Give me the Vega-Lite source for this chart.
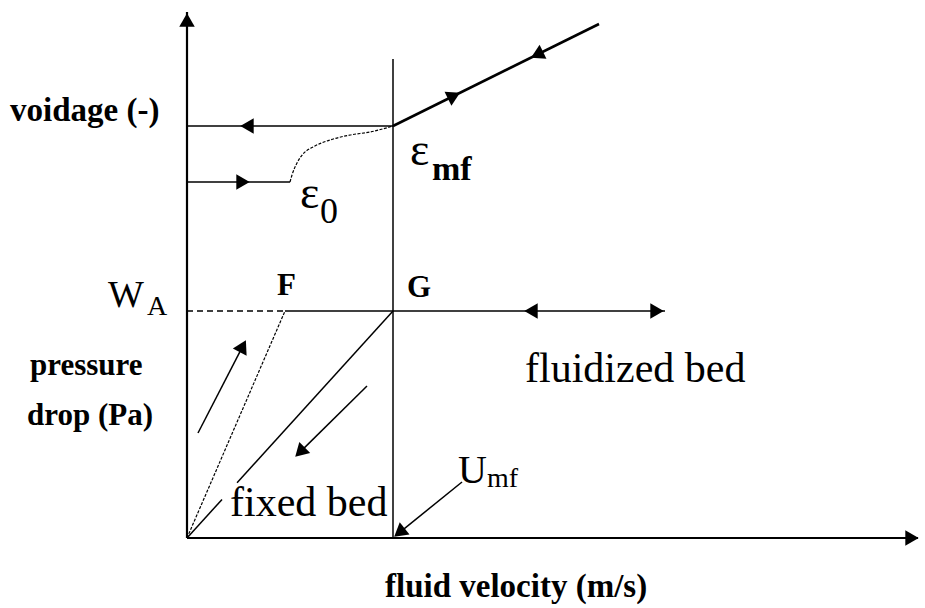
{
  "$schema": "https://vega.github.io/schema/vega-lite/v6.json",
  "width": 925,
  "height": 608,
  "autosize": {"type": "fit", "contains": "padding"},
  "padding": 0,
  "background": "white",
  "config": {"view": {"stroke": null}},
  "datasets": {
    "lines": [
      {"id": "yaxis", "seq": 0, "x": 0, "y": 0},
      {"id": "yaxis", "seq": 1, "x": 0, "y": 2.3172},
      {"id": "xaxis", "seq": 0, "x": 0, "y": 0},
      {"id": "xaxis", "seq": 1, "x": 3.5485, "y": 0},
      {"id": "umf", "seq": 0, "x": 1, "y": 0},
      {"id": "umf", "seq": 1, "x": 1, "y": 2.1101},
      {"id": "vtop", "seq": 0, "x": 0, "y": 1.815},
      {"id": "vtop", "seq": 1, "x": 1, "y": 1.815},
      {"id": "vbot", "seq": 0, "x": 0, "y": 1.5683},
      {"id": "vbot", "seq": 1, "x": 0.5, "y": 1.5683},
      {"id": "fluid", "seq": 0, "x": 1, "y": 1.815},
      {"id": "fluid", "seq": 1, "x": 2.0, "y": 2.2643},
      {"id": "wa_solid", "seq": 0, "x": 0.4757, "y": 1},
      {"id": "wa_solid", "seq": 1, "x": 2.3204, "y": 1},
      {"id": "wa_dash", "seq": 0, "x": 0, "y": 1},
      {"id": "wa_dash", "seq": 1, "x": 0.4757, "y": 1},
      {"id": "oF", "seq": 0, "x": 0, "y": 0},
      {"id": "oF", "seq": 1, "x": 0.4757, "y": 1},
      {"id": "oG1", "seq": 0, "x": 0, "y": 0},
      {"id": "oG1", "seq": 1, "x": 0.17, "y": 0.17},
      {"id": "oG2", "seq": 0, "x": 0.243, "y": 0.243},
      {"id": "oG2", "seq": 1, "x": 1, "y": 1},
      {"id": "up", "seq": 0, "x": 0.0534, "y": 0.4626},
      {"id": "up", "seq": 1, "x": 0.2709, "y": 0.8449},
      {"id": "down", "seq": 0, "x": 0.8738, "y": 0.6696},
      {"id": "down", "seq": 1, "x": 0.5485, "y": 0.3784},
      {"id": "umfarrow", "seq": 0, "x": 1.335, "y": 0.2467},
      {"id": "umfarrow", "seq": 1, "x": 1.0311, "y": 0.0238},
      {"id": "curve", "seq": 0, "x": 0.5, "y": 1.5683},
      {"id": "curve", "seq": 1, "x": 0.5097, "y": 1.5991},
      {"id": "curve", "seq": 2, "x": 0.534, "y": 1.652},
      {"id": "curve", "seq": 3, "x": 0.5631, "y": 1.6916},
      {"id": "curve", "seq": 4, "x": 0.6117, "y": 1.7225},
      {"id": "curve", "seq": 5, "x": 0.6942, "y": 1.7533},
      {"id": "curve", "seq": 6, "x": 0.7913, "y": 1.7753},
      {"id": "curve", "seq": 7, "x": 0.8883, "y": 1.7885},
      {"id": "curve", "seq": 8, "x": 1.0, "y": 1.815}
    ],
    "heads": [
      {"x": 0, "y": 2.2819, "heading": 270},
      {"x": 3.5194, "y": 0, "heading": 0},
      {"x": 0.2913, "y": 1.815, "heading": 180},
      {"x": 0.2718, "y": 1.5683, "heading": 0},
      {"x": 1.2961, "y": 1.948, "heading": 333.7},
      {"x": 1.699, "y": 2.1291, "heading": 153.7},
      {"x": 1.6699, "y": 1, "heading": 180},
      {"x": 2.2816, "y": 1, "heading": 0},
      {"x": 0.2709, "y": 0.8449, "heading": 297.3},
      {"x": 0.5485, "y": 0.3784, "heading": 135.4},
      {"x": 1.0311, "y": 0.0238, "heading": 141.0}
    ]
  },
  "encoding": {
    "x": {"field": "x", "type": "quantitative", "scale": {"domain": [-0.90777, 3.58252], "nice": false, "zero": false}, "axis": null},
    "y": {"field": "y", "type": "quantitative", "scale": {"domain": [-0.30837, 2.37004], "nice": false, "zero": false}, "axis": null}
  },
  "layer": [
    {
      "data": {"name": "lines"},
      "transform": [{"filter": {"field": "id", "oneOf": ["yaxis", "xaxis"]}}],
      "mark": {"type": "line", "color": "black", "strokeWidth": 2.2},
      "encoding": {"detail": {"field": "id"}, "order": {"field": "seq"}}
    },
    {
      "data": {"name": "lines"},
      "transform": [{"filter": {"field": "id", "oneOf": ["umf", "vtop", "vbot", "wa_solid", "oG1", "oG2", "up", "down", "umfarrow"]}}],
      "mark": {"type": "line", "color": "black", "strokeWidth": 1.5},
      "encoding": {"detail": {"field": "id"}, "order": {"field": "seq"}}
    },
    {
      "data": {"name": "lines"},
      "transform": [{"filter": {"field": "id", "equal": "fluid"}}],
      "mark": {"type": "line", "color": "black", "strokeWidth": 2.6},
      "encoding": {"detail": {"field": "id"}, "order": {"field": "seq"}}
    },
    {
      "data": {"name": "lines"},
      "transform": [{"filter": {"field": "id", "equal": "wa_dash"}}],
      "mark": {"type": "line", "color": "black", "strokeWidth": 1.5, "strokeDash": [6, 4]},
      "encoding": {"detail": {"field": "id"}, "order": {"field": "seq"}}
    },
    {
      "data": {"name": "lines"},
      "transform": [{"filter": {"field": "id", "oneOf": ["oF", "curve"]}}],
      "mark": {"type": "line", "color": "black", "strokeWidth": 1.2, "strokeDash": [3, 1.5], "interpolate": "monotone"},
      "encoding": {"detail": {"field": "id"}, "order": {"field": "seq"}}
    },
    {
      "data": {"name": "heads"},
      "mark": {"type": "point", "shape": "triangle-right", "filled": true, "size": 240, "color": "black", "opacity": 1, "strokeWidth": 0},
      "encoding": {"angle": {"field": "heading", "type": "quantitative", "scale": null}}
    },
    {
      "data": {"values": [
        {"t": "voidage (-)", "x": -0.8592, "y": 1.837},
        {"t": "fluid velocity (m/s)", "x": 0.9612, "y": -0.2599}
      ]},
      "mark": {"type": "text", "align": "left", "baseline": "alphabetic", "font": "Liberation Serif", "fontWeight": "bold", "fontSize": 33, "color": "black"},
      "encoding": {"text": {"field": "t"}}
    },
    {
      "data": {"values": [
        {"t": "pressure", "x": -0.7621, "y": 0.7181},
        {"t": "drop (Pa)", "x": -0.7767, "y": 0.4978}
      ]},
      "mark": {"type": "text", "align": "left", "baseline": "alphabetic", "font": "Liberation Serif", "fontWeight": "bold", "fontSize": 31, "color": "black"},
      "encoding": {"text": {"field": "t"}}
    },
    {
      "data": {"values": [
        {"t": "fluidized bed", "x": 1.6408, "y": 0.6872},
        {"t": "fixed bed", "x": 0.2087, "y": 0.0969}
      ]},
      "mark": {"type": "text", "align": "left", "baseline": "alphabetic", "font": "Liberation Serif", "fontSize": 42, "color": "black"},
      "encoding": {"text": {"field": "t"}}
    },
    {
      "data": {"values": [{"t": "W", "x": -0.3835, "y": 1.0176}]},
      "mark": {"type": "text", "align": "left", "baseline": "alphabetic", "font": "Liberation Serif", "fontSize": 38, "color": "black"},
      "encoding": {"text": {"field": "t"}}
    },
    {
      "data": {"values": [{"t": "U", "x": 1.3155, "y": 0.2423}]},
      "mark": {"type": "text", "align": "left", "baseline": "alphabetic", "font": "Liberation Serif", "fontSize": 40, "color": "black"},
      "encoding": {"text": {"field": "t"}}
    },
    {
      "data": {"values": [
        {"t": "A", "x": -0.1942, "y": 0.9824},
        {"t": "mf", "x": 1.4563, "y": 0.2247}
      ]},
      "mark": {"type": "text", "align": "left", "baseline": "alphabetic", "font": "Liberation Serif", "fontSize": 28, "color": "black"},
      "encoding": {"text": {"field": "t"}}
    },
    {
      "data": {"values": [
        {"t": "F", "x": 0.4369, "y": 1.0705},
        {"t": "G", "x": 1.068, "y": 1.0617}
      ]},
      "mark": {"type": "text", "align": "left", "baseline": "alphabetic", "font": "Liberation Serif", "fontWeight": "bold", "fontSize": 31, "color": "black"},
      "encoding": {"text": {"field": "t"}}
    },
    {
      "data": {"values": [
        {"t": "ε", "x": 0.5485, "y": 1.4537},
        {"t": "ε", "x": 1.0825, "y": 1.6432}
      ]},
      "mark": {"type": "text", "align": "left", "baseline": "alphabetic", "font": "Liberation Serif", "fontSize": 46, "color": "black"},
      "encoding": {"text": {"field": "t"}}
    },
    {
      "data": {"values": [{"t": "0", "x": 0.6456, "y": 1.3877}]},
      "mark": {"type": "text", "align": "left", "baseline": "alphabetic", "font": "Liberation Serif", "fontSize": 36, "color": "black"},
      "encoding": {"text": {"field": "t"}}
    },
    {
      "data": {"values": [{"t": "mf", "x": 1.1893, "y": 1.5771}]},
      "mark": {"type": "text", "align": "left", "baseline": "alphabetic", "font": "Liberation Serif", "fontSize": 34, "fontWeight": "bold", "color": "black"},
      "encoding": {"text": {"field": "t"}}
    }
  ]
}
